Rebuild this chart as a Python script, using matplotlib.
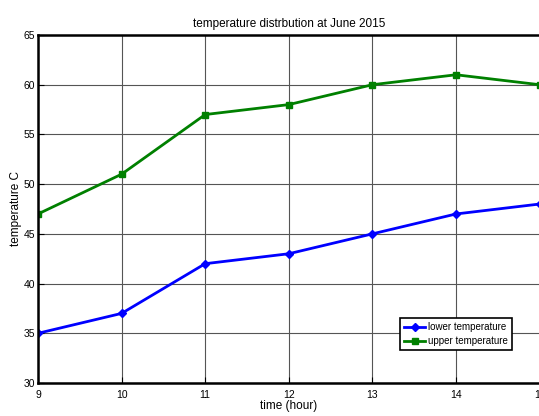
import numpy as np
import matplotlib.pyplot as plt

plt.rcParams['font.family'] = ['Liberation Sans', 'DejaVu Sans']

hours = [9, 10, 11, 12, 13, 14, 15]
lower = [35, 37, 42, 43, 45, 47, 48]
upper = [47, 51, 57, 58, 60, 61, 60]

fig = plt.figure(figsize=(5.39, 4.16), dpi=100)
ax = fig.add_axes([38/539, 33/416, 501.6/539, 348/416])

ax.plot(hours, lower, color='#0000ff', lw=2, marker='D', ms=4, label='lower temperature')
ax.plot(hours, upper, color='#008000', lw=2, marker='s', ms=4, label='upper temperature')

ax.set_xlim(9, 15)
ax.set_ylim(30, 65)
ax.set_xticks(hours)
ax.set_yticks(np.arange(30, 66, 5))
ax.grid(True, color='#555555', lw=0.8)
ax.tick_params(direction='in', length=4, labelsize=7.5)
ax.tick_params(axis='x', pad=5)
ax.tick_params(axis='y', pad=2)
for s in ax.spines.values():
    s.set_linewidth(1.8)

ax.set_title('temperature distrbution at June 2015', fontsize=8.5, pad=6)
ax.set_xlabel('time (hour)', fontsize=8.5, labelpad=0)
ax.set_ylabel('temperature C', fontsize=8.5, labelpad=1)

leg = ax.legend(loc='lower right', bbox_to_anchor=(0.955, 0.08), fontsize=7,
                fancybox=False, framealpha=1, edgecolor='black',
                handlelength=2.2, handletextpad=0.3, borderpad=0.4, labelspacing=0.45)
leg.get_frame().set_linewidth(1.2)

fig.savefig('out.png', dpi=100)
